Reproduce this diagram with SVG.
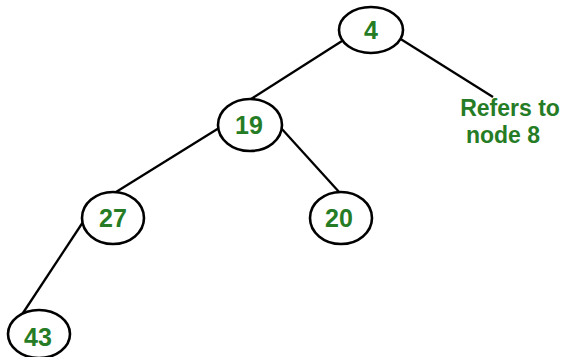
<svg xmlns="http://www.w3.org/2000/svg" width="566" height="357" viewBox="0 0 566 357">
  <style>
    .edge { stroke: #000; stroke-width: 2.3; fill: none; }
    .node ellipse { fill: #fff; stroke: #000; stroke-width: 2.6; }
    .lbl { font-family: "Liberation Sans", Arial, sans-serif; font-weight: bold; fill: #257c25; text-anchor: middle; }
    .num { font-size: 25px; }
    .note { font-size: 23px; }
  </style>
  <rect width="566" height="357" fill="#fff"/>
  <g id="connectors">
    <line class="edge" x1="342" y1="41" x2="251" y2="99"/>
    <line class="edge" x1="399" y1="38" x2="493" y2="97"/>
    <line class="edge" x1="219" y1="128" x2="116" y2="192"/>
    <line class="edge" x1="281" y1="128" x2="340" y2="193"/>
    <line class="edge" x1="83" y1="222" x2="21" y2="316"/>
  </g>
  <g id="node-4" class="node">
    <ellipse cx="371" cy="30" rx="32" ry="23"/>
    <text class="lbl num" x="371" y="39">4</text>
  </g>
  <g id="node-19" class="node">
    <ellipse cx="250" cy="125" rx="32" ry="26"/>
    <text class="lbl num" x="249" y="134">19</text>
  </g>
  <g id="node-27" class="node">
    <ellipse cx="113" cy="218" rx="31" ry="26"/>
    <text class="lbl num" x="113" y="227">27</text>
  </g>
  <g id="node-20" class="node">
    <ellipse cx="341" cy="218" rx="31" ry="26"/>
    <text class="lbl num" x="339" y="227">20</text>
  </g>
  <g id="node-43" class="node">
    <ellipse cx="39" cy="334" rx="31" ry="24"/>
    <text class="lbl num" x="38" y="346">43</text>
  </g>
  <g id="ref-note">
    <text class="lbl note" x="510" y="116">Refers to</text>
    <text class="lbl note" x="503" y="143">node 8</text>
  </g>
</svg>
